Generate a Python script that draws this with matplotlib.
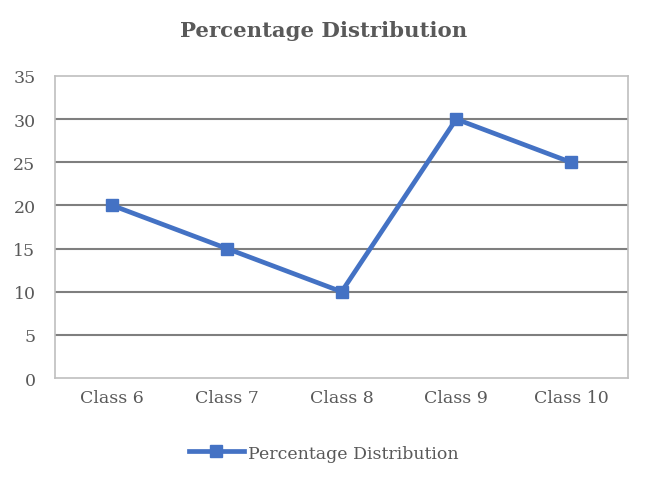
import matplotlib.pyplot as plt

classes = ['Class 6', 'Class 7', 'Class 8', 'Class 9', 'Class 10']
values = [20, 15, 10, 30, 25]
yticks = [0, 5, 10, 15, 20, 25, 30, 35]

plt.rcParams['font.family'] = ['DejaVu Serif']
text_col = '#595959'

fig = plt.figure(figsize=(6.47, 4.81), dpi=100)
ax = fig.add_axes([0.085, 0.212, 0.886, 0.628])

x = range(len(classes))
ax.plot(x, values, color='#4472C4', linewidth=3.4, marker='s', markersize=8.5,
        label='Percentage Distribution', zorder=3)

ax.set_xlim(-0.5, len(classes) - 0.5)
ax.set_ylim(0, 35)
ax.set_yticks(yticks)
ax.set_xticks(list(x))
ax.set_xticklabels(classes)
for y in yticks[1:-1]:
    ax.axhline(y, color='#7f7f7f', linewidth=1.5, zorder=1)

for s in ax.spines.values():
    s.set_color('#bfbfbf')
    s.set_linewidth(1.2)
ax.tick_params(length=0, labelsize=12.5, colors=text_col, pad=8)
ax.tick_params(axis='y', pad=14)

fig.suptitle('Percentage Distribution', x=0.5, y=0.957, fontsize=15.3,
             fontweight='bold', color=text_col)

leg = fig.legend(loc='center', bbox_to_anchor=(0.5, 0.056), frameon=False,
                 fontsize=12.5, handlelength=3.2, handletextpad=0.2)
for t in leg.get_texts():
    t.set_color(text_col)

fig.savefig('out.png', dpi=100)
